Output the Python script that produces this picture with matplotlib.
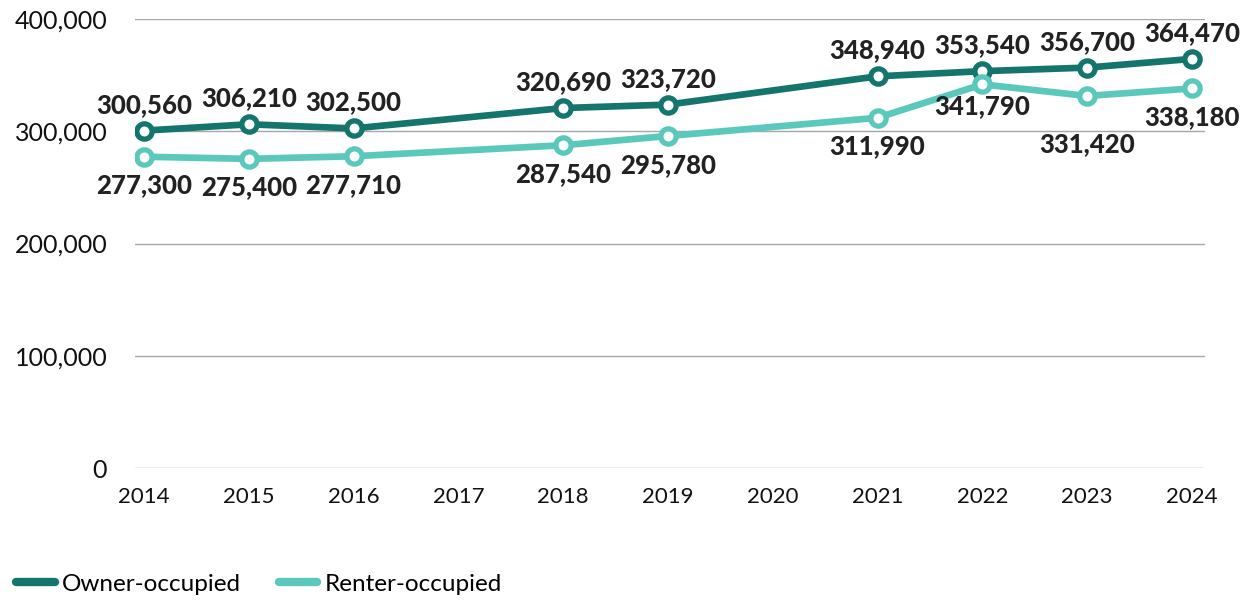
import matplotlib
matplotlib.use("Agg")
import matplotlib.pyplot as plt
from matplotlib.ticker import FuncFormatter
from matplotlib import font_manager as fm

years = [2014, 2015, 2016, 2018, 2019, 2021, 2022, 2023, 2024]
owner = [300560, 306210, 302500, 320690, 323720, 348940, 353540, 356700, 364470]
renter = [277300, 275400, 277710, 287540, 295780, 311990, 341790, 331420, 338180]
xticks = list(range(2014, 2025))
yticks = [0, 100000, 200000, 300000, 400000]

owner_color = "#13756C"
renter_color = "#5BC8BC"

plt.rcParams['font.family'] = ['Lato', 'DejaVu Sans']

def lato_file(name):
    for f in fm.fontManager.ttflist:
        if f.fname.endswith(name):
            return f.fname
    return None

bold_path = lato_file('Lato-Black.ttf') or lato_file('Lato-Heavy.ttf') or lato_file('Lato-Bold.ttf')
if bold_path:
    bold_fp = fm.FontProperties(fname=bold_path, size=18.5)
else:
    bold_fp = fm.FontProperties(family='Lato', weight='black', size=18.5)

fig = plt.figure(figsize=(12.6, 6), dpi=100)
ax = fig.add_axes([135/1260, 132/600, (1205-135)/1260, (468-19)/600])

for vals, col, lab in [(owner, owner_color, "Owner-occupied"), (renter, renter_color, "Renter-occupied")]:
    ax.plot(years, vals, color=col, lw=4.8, marker='o', ms=11, mfc='white', mec=col, mew=3.8,
            label=lab, solid_capstyle='round', zorder=3)

for x, v in zip(years, owner):
    ax.annotate(f"{v:,}", (x, v), xytext=(0, 10), textcoords='offset points', ha='center', va='bottom',
                fontproperties=bold_fp, color='#222222')
# label nudges (points) to avoid overlaps, as in the original
renter_nudge = {2022: 5, 2023: -14}
for x, v in zip(years, renter):
    dy = -12 + renter_nudge.get(x, 0)
    ax.annotate(f"{v:,}", (x, v), xytext=(0, dy), textcoords='offset points', ha='center', va='top',
                fontproperties=bold_fp, color='#222222')

ax.set_xlim(2014 - 9/104.8, 2024 + 13/104.8)
ax.set_ylim(0, 400000)
ax.set_yticks(yticks)
ax.yaxis.set_major_formatter(FuncFormatter(lambda v, p: f"{int(v):,}"))
ax.set_xticks(xticks)
ax.tick_params(axis='y', labelsize=18, length=0, pad=20, colors='#111111')
ax.tick_params(axis='x', labelsize=16, length=0, pad=14, colors='#111111')
ax.grid(axis='y', color='#a6a6a6', lw=1)
ax.set_axisbelow(True)
for s in ax.spines.values():
    s.set_visible(False)

leg = fig.legend(handles=ax.get_lines(), loc='lower left', bbox_to_anchor=(-0.001, -0.02), ncol=2,
                 frameon=False, fontsize=17.5, handlelength=1.6, handletextpad=0.3, columnspacing=1.55,
                 borderaxespad=0.3)
for h in leg.get_lines():
    h.set_marker('')
    h.set_linewidth(6)

fig.savefig("out.png", dpi=100)
